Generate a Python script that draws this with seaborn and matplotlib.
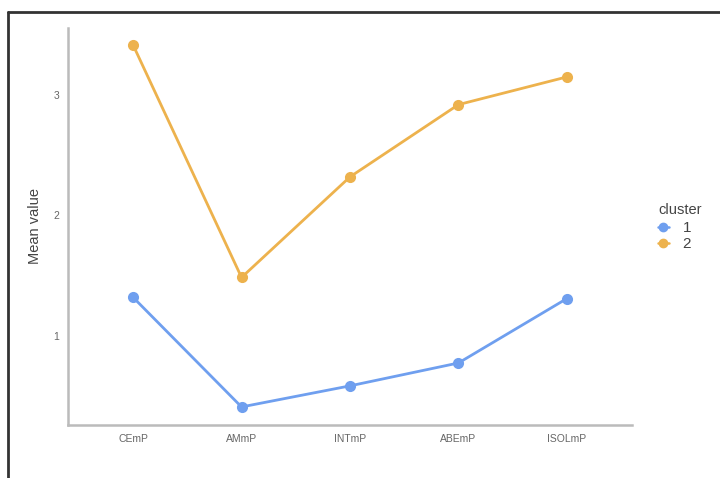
import matplotlib
matplotlib.use("Agg")
import matplotlib.pyplot as plt
import seaborn as sns
import pandas as pd
from matplotlib.lines import Line2D

variables = ["CEmP", "AMmP", "INTmP", "ABEmP", "ISOLmP"]
cluster1 = [1.32, 0.41, 0.585, 0.775, 1.31]
cluster2 = [3.415, 1.485, 2.32, 2.92, 3.15]
clusters = ["1", "2"]
palette = {"1": "#6F9FEF", "2": "#EDB24D"}

df = pd.DataFrame({
    "variable": variables * 2,
    "value": cluster1 + cluster2,
    "cluster": ["1"] * len(variables) + ["2"] * len(variables),
})

sns.set_style("white")
plt.rcParams["font.family"] = ["Liberation Sans", "DejaVu Sans"]

fig = plt.figure(figsize=(7.2, 4.78), dpi=100)
ax = fig.add_axes([68/720, 1-425/478, (632-68)/720, (425-28)/478])

sns.pointplot(data=df, x="variable", y="value", hue="cluster", order=variables,
              hue_order=clusters, palette=palette, errorbar=None, markers="o",
              markersize=6.5, linewidth=2.0, ax=ax, legend=False)

ax.set_xlim(-0.6, 4.6)
ax.set_ylim(0.26, 3.556)
ax.set_yticks([1, 2, 3])
ax.set_yticklabels(["1", "2", "3"])
ax.set_xlabel("")
ax.set_ylabel("Mean value", fontsize=10.5, color="#444444", labelpad=8)
ax.tick_params(axis="both", which="both", length=2.5, width=0.8, color="#555555",
               labelsize=7.5, labelcolor="#666666", pad=4)
for side in ["top", "right"]:
    ax.spines[side].set_visible(False)
for side in ["left", "bottom"]:
    ax.spines[side].set_color("#BBBBBB")
    ax.spines[side].set_linewidth(1.8)

handles = [Line2D([0], [0], color=palette[c], marker="o", markersize=6, linewidth=1.8)
           for c in clusters]
leg = fig.legend(handles, clusters, title="cluster", loc="upper left",
                 bbox_to_anchor=(652/720, 1-197/478), frameon=False,
                 fontsize=11, title_fontsize=10.5, handlelength=0.7,
                 handletextpad=0.9, labelspacing=0.12, borderaxespad=0)
leg.get_title().set_color("#444444")
leg._legend_box.align = "left"
leg._legend_box.sep = 3
for t in leg.get_texts():
    t.set_color("#444444")

# outer frame (top and left edges)
fig.add_artist(Line2D([8/720, 1.0], [1-12/478, 1-12/478], color="#333333", linewidth=2,
                      transform=fig.transFigure))
fig.add_artist(Line2D([8/720, 8/720], [0, 1-12/478], color="#333333", linewidth=2,
                      transform=fig.transFigure))

fig.savefig("out.png", dpi=100)
